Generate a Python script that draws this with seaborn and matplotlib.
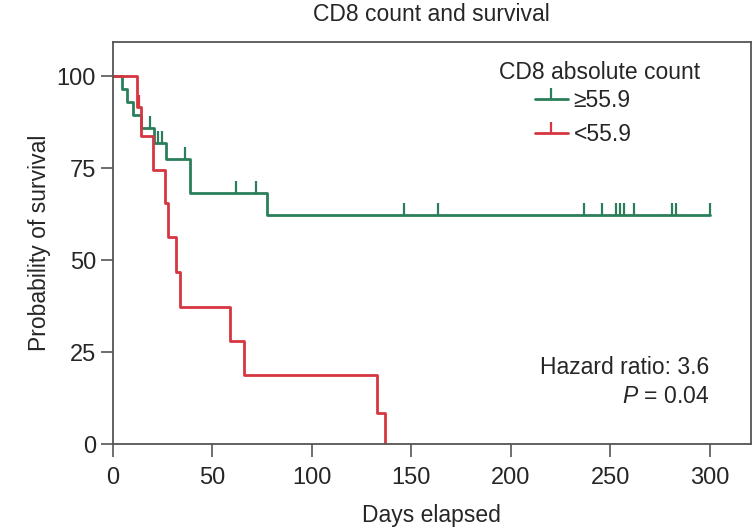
import matplotlib
matplotlib.use("Agg")
import matplotlib.pyplot as plt
from matplotlib.lines import Line2D
import seaborn as sns
import pandas as pd

# Kaplan-Meier step curves (days, survival %) for each CD8 group
high_days = [0, 4.5, 7, 10.4, 14, 20.5, 26.9, 38.7, 77.3, 300]
high_surv = [100, 96.6, 93.1, 89.6, 86.0, 81.9, 77.5, 68.2, 62.4, 62.4]
high_censor_days = [18.8, 23, 24.7, 36.5, 62, 72, 146.5, 163.6, 237, 246,
                    252.7, 254.7, 257, 262, 281, 283, 300]

low_days = [0, 12, 14, 20, 26.5, 28, 32, 34, 59, 66, 133, 137]
low_surv = [100, 91.7, 83.8, 74.4, 65.5, 56.2, 46.8, 37.3, 28.0, 18.7, 8.5, 0]
low_censor_days = [13]

group_labels = ["\u226555.9", "<55.9"]
legend_title = "CD8 absolute count"
x_ticks = [0, 50, 100, 150, 200, 250, 300]
y_ticks = [0, 25, 50, 75, 100]
hazard_text = "Hazard ratio: 3.6"
p_text = "$P$ = 0.04"

GREEN = "#2a7f5a"
RED = "#d6363f"
FRAME = "#555555"
FS = 16.5

sns.set_theme(style="white")
plt.rcParams["font.family"] = ["Liberation Sans", "DejaVu Sans"]
plt.rcParams["mathtext.fontset"] = "custom"
plt.rcParams["mathtext.rm"] = "Liberation Sans"
plt.rcParams["mathtext.it"] = "Liberation Sans:italic"


def censor_levels(days, step_days, step_surv):
    levels = []
    for d in days:
        lvl = step_surv[0]
        for t, s in zip(step_days, step_surv):
            if t <= d:
                lvl = s
        levels.append(lvl)
    return levels


fig = plt.figure(figsize=(7.54, 5.32), dpi=100)
ax = fig.add_axes([112.7 / 754, 1 - 444.3 / 532, 638.3 / 754, 402.3 / 532])

curves = [
    (high_days, high_surv, high_censor_days, GREEN),
    (low_days, low_surv, low_censor_days, RED),
]
for days, surv, cens, col in curves:
    df = pd.DataFrame({"day": days, "surv": surv})
    sns.lineplot(data=df, x="day", y="surv", color=col, lw=2.0,
                 drawstyle="steps-post", estimator=None, sort=False, ax=ax)
    cdf = pd.DataFrame({"day": cens,
                        "surv": censor_levels(cens, days, surv)})
    sns.scatterplot(data=cdf, x="day", y="surv", marker=2, color=col,
                    s=70, linewidth=1.6, ax=ax, zorder=3)

ax.set_xlim(0, 320.7)
ax.set_ylim(0, 109.3)
ax.set_xticks(x_ticks)
ax.set_yticks(y_ticks)
ax.tick_params(axis="both", which="major", length=9, width=1.2,
               color=FRAME, labelsize=17, direction="out",
               bottom=True, left=True)
ax.tick_params(axis="x", pad=7)
ax.tick_params(axis="y", pad=3)
for sp in ax.spines.values():
    sp.set_color(FRAME)
    sp.set_linewidth(1.3)

ax.set_xlabel("Days elapsed", fontsize=FS, labelpad=11)
ax.set_ylabel("Probability of survival", fontsize=FS, labelpad=4)
ax.set_title("CD8 count and survival", fontsize=FS, pad=15)

handles = [Line2D([], [], color=GREEN, lw=2.0, marker=2, markersize=8,
                  markeredgewidth=1.6),
           Line2D([], [], color=RED, lw=2.0, marker=2, markersize=8,
                  markeredgewidth=1.6)]
ax.text(0.762, 0.923, legend_title, transform=ax.transAxes, fontsize=FS,
        ha="center", va="center")
ax.legend(handles, group_labels, loc="upper left",
          bbox_to_anchor=(0.643, 0.912), frameon=False, borderpad=0,
          fontsize=FS, handlelength=1.45, handletextpad=0.25,
          labelspacing=0.5, numpoints=1)

ax.text(0.935, 0.19, hazard_text, transform=ax.transAxes, fontsize=FS,
        ha="right", va="center")
ax.text(0.935, 0.12, p_text, transform=ax.transAxes, fontsize=FS,
        ha="right", va="center")

fig.savefig("out.png", dpi=100)
